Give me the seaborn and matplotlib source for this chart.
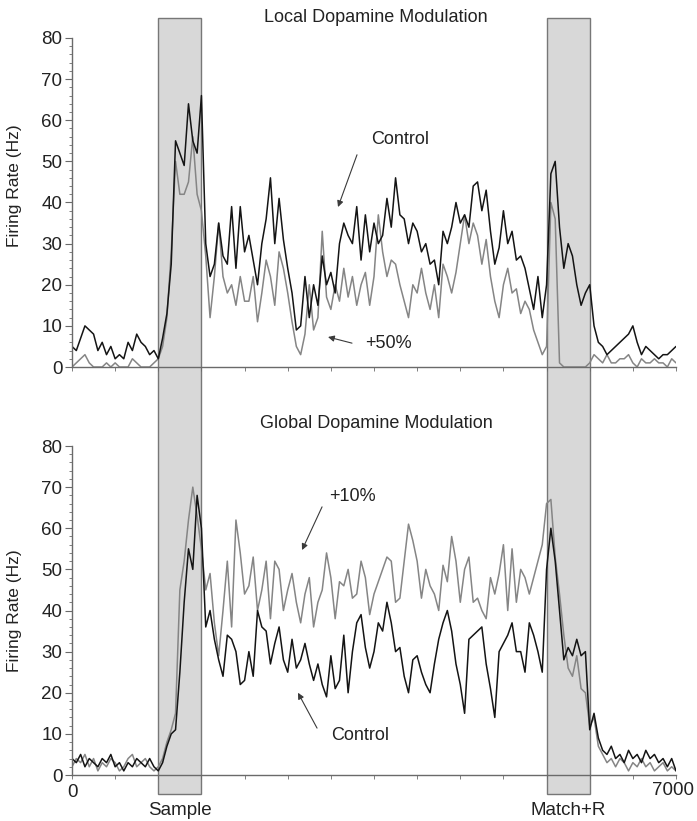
import numpy as np
import pandas as pd
import matplotlib
matplotlib.use('Agg')
import matplotlib.pyplot as plt
import matplotlib.transforms as mtransforms
from matplotlib.patches import Rectangle
from matplotlib.ticker import MultipleLocator, NullFormatter
import seaborn as sns

# time axis, 50 ms bins
time_ms = list(range(0, 7001, 50))

# top panel: local dopamine modulation (Hz)
local_control = [5, 4, 7, 10, 9, 8, 4, 6, 3, 5, 2, 3, 2, 6, 4, 8, 6, 5, 3, 4, 2,
                 7, 13, 25, 55, 52, 49, 64, 55, 52, 66,
                 30, 22, 25, 35, 27, 25, 39, 24, 39, 28,
                 32, 26, 20, 30, 36, 46, 30, 41, 31, 24,
                 18, 9, 10, 22, 12, 20, 15, 27, 20, 23,
                 18, 30, 35, 32, 30, 39, 26, 37, 28, 35,
                 30, 32, 41, 34, 46, 37, 36, 30, 35, 33,
                 28, 30, 25, 26, 20, 33, 30, 34, 40, 35,
                 37, 34, 44, 45, 38, 43, 33, 25, 29, 38,
                 30, 33, 26, 27, 24, 19, 14, 22, 12, 20,
                 47, 50, 34, 24, 30, 27, 20, 15, 18, 20,
                 10, 6, 5, 3, 4, 5, 6, 7, 8, 10,
                 6, 3, 5, 4, 3, 2, 3, 3, 4, 5]
local_plus50 = [0, 1, 2, 3, 1, 0, 0, 0, 1, 0, 1, 0, 0, 0, 2, 1, 0, 0, 0, 1, 2,
                5, 12, 28, 50, 42, 42, 45, 56, 42, 38,
                27, 12, 22, 35, 22, 18, 20, 15, 22, 16,
                16, 22, 11, 18, 26, 22, 15, 28, 24, 18,
                11, 5, 3, 8, 20, 9, 12, 33, 17, 14,
                20, 16, 24, 17, 22, 15, 20, 23, 15, 22,
                37, 28, 22, 26, 25, 20, 16, 12, 20, 18,
                24, 18, 14, 20, 12, 25, 22, 18, 23, 30,
                37, 30, 35, 32, 25, 31, 22, 16, 12, 20,
                24, 18, 19, 13, 16, 14, 9, 6, 3, 5,
                40, 36, 1, 0, 0, 0, 0, 0, 0, 1,
                3, 2, 1, 3, 1, 1, 2, 2, 3, 1,
                0, 2, 1, 1, 2, 1, 1, 0, 2, 1]

# bottom panel: global dopamine modulation
global_control = [4, 3, 5, 2, 4, 3, 2, 4, 3, 5, 2, 3, 1, 3, 2, 4, 3, 2, 4, 2, 1,
                  3, 7, 10, 11, 25, 42, 55, 50, 68, 60,
                  36, 40, 33, 28, 24, 34, 33, 30, 22, 23,
                  30, 24, 40, 36, 35, 27, 32, 36, 28, 25,
                  33, 26, 28, 32, 27, 23, 27, 22, 19, 29,
                  21, 23, 34, 20, 30, 37, 39, 31, 26, 30,
                  37, 35, 42, 37, 30, 31, 24, 20, 28, 29,
                  25, 22, 20, 27, 33, 37, 40, 35, 27, 22,
                  15, 33, 34, 35, 36, 27, 21, 14, 30, 32,
                  34, 37, 30, 30, 25, 37, 34, 30, 25, 50,
                  60, 52, 40, 28, 31, 29, 33, 29, 30, 11,
                  15, 9, 6, 5, 7, 4, 5, 3, 6, 4,
                  5, 3, 6, 4, 5, 3, 4, 2, 4, 1]
global_plus10 = [2, 4, 3, 5, 2, 4, 1, 3, 2, 4, 3, 1, 2, 4, 5, 2, 3, 4, 2, 1, 2,
                 4, 8, 11, 15, 45, 52, 62, 70, 63, 55,
                 45, 49, 37, 29, 40, 52, 36, 62, 54, 44,
                 46, 53, 40, 45, 52, 38, 52, 50, 40, 45,
                 49, 42, 37, 44, 48, 36, 42, 45, 54, 48,
                 38, 47, 46, 50, 43, 44, 52, 48, 39, 44,
                 47, 50, 53, 52, 42, 43, 52, 61, 57, 52,
                 43, 50, 46, 44, 40, 51, 47, 58, 52, 42,
                 50, 53, 42, 43, 40, 38, 48, 44, 49, 56,
                 40, 55, 42, 50, 48, 44, 48, 52, 56, 66,
                 67, 53, 44, 34, 26, 24, 29, 21, 20, 12,
                 14, 7, 5, 3, 4, 2, 4, 3, 1, 3,
                 2, 4, 2, 3, 1, 2, 3, 1, 2, 1]

# task epochs (ms)
epochs = [(1000, 1500, 'Sample'), (5500, 6000, 'Match+R')]

sns.set_style('ticks')
plt.rcParams['font.family'] = ['Liberation Sans', 'DejaVu Sans']

W, H = 697, 821
fig = plt.figure(figsize=(W / 100, H / 100), dpi=100)
ax_top = fig.add_axes([72 / W, 1 - 367 / H, 604 / W, 329 / H])
ax_bot = fig.add_axes([72 / W, 1 - 775 / H, 604 / W, 329 / H])

spine_col = '#6a6a6a'
txt_col = '#222222'
pal = {'mod': '#858585', 'ctrl': '#141414'}


def draw_panel(ax, ctrl, mod):
    n = len(time_ms)
    df = pd.DataFrame({'t': time_ms * 2,
                       'rate': mod + ctrl,
                       'cond': ['mod'] * n + ['ctrl'] * n})
    sns.lineplot(data=df, x='t', y='rate', hue='cond', hue_order=['mod', 'ctrl'],
                 palette=pal, estimator=None, legend=False, lw=1.1, ax=ax)
    ax.set_xlim(0, 7000)
    ax.set_ylim(0, 80)
    ax.set_facecolor('none')
    for s in ['top', 'right']:
        ax.spines[s].set_visible(False)
    for s in ['left', 'bottom']:
        ax.spines[s].set_color(spine_col)
        ax.spines[s].set_linewidth(1.0)
    ax.yaxis.set_major_locator(MultipleLocator(10))
    ax.yaxis.set_minor_locator(MultipleLocator(2))
    ax.xaxis.set_major_locator(MultipleLocator(500))
    ax.xaxis.set_major_formatter(NullFormatter())
    ax.tick_params(axis='y', which='major', direction='out', length=5, width=0.8,
                   color=spine_col, labelsize=13.5, labelcolor=txt_col, pad=2)
    ax.tick_params(axis='y', which='minor', direction='out', length=2.5, width=0.6,
                   color=spine_col)
    ax.tick_params(axis='x', which='major', direction='out', length=3, width=0.6,
                   color=spine_col)
    ax.set_xlabel('')
    ax.set_ylabel('Firing Rate (Hz)', fontsize=12.5, color=txt_col)


draw_panel(ax_top, local_control, local_plus50)
draw_panel(ax_bot, global_control, global_plus10)
ax_top.yaxis.set_label_coords(-0.083, 0.55)
ax_bot.yaxis.set_label_coords(-0.083, 0.5)

# grey epoch bands running through both panels
band = mtransforms.blended_transform_factory(ax_bot.transData, fig.transFigure)
y0, y1 = 1 - 794 / H, 1 - 18 / H
for start, end, name in epochs:
    fig.add_artist(Rectangle((start, y0), end - start, y1 - y0, transform=band,
                             facecolor='#d8d8d8', edgecolor='#777777', lw=1.0, zorder=-1))
    fig.text((start + end) / 2, 1 - 810 / H, name, transform=band,
             ha='center', va='center', fontsize=13.5, color=txt_col)

# x end labels
fig.text(0, 1 - 792 / H, '0', transform=band, ha='center', va='center',
         fontsize=13.5, color=txt_col)
fig.text(6960, 1 - 790 / H, '7000', transform=band, ha='center', va='center',
         fontsize=13.5, color=txt_col)

# panel titles
fig.text(376 / W, 1 - 17 / H, 'Local Dopamine Modulation', ha='center', va='center',
         fontsize=13, color=txt_col)
fig.text(376 / W, 1 - 423 / H, 'Global Dopamine Modulation', ha='center', va='center',
         fontsize=13, color=txt_col)

arrow = dict(arrowstyle='-|>', color='#3a3a3a', lw=0.8, mutation_scale=9,
             shrinkA=0, shrinkB=0)

# top annotations
ax_top.text(3802, 55.2, 'Control', ha='center', va='center', fontsize=13, color=txt_col)
ax_top.annotate('', xy=(3083, 38.9), xytext=(3303, 51.6), arrowprops=arrow)
ax_top.text(3662, 5.8, '+50%', ha='center', va='center', fontsize=13, color=txt_col)
ax_top.annotate('', xy=(2967, 7.3), xytext=(3245, 5.8), arrowprops=arrow)

# bottom annotations
ax_bot.text(3245, 67.6, '+10%', ha='center', va='center', fontsize=13, color=txt_col)
ax_bot.annotate('', xy=(2666, 54.7), xytext=(2898, 65.2), arrowprops=arrow)
ax_bot.text(3338, 9.7, 'Control', ha='center', va='center', fontsize=13, color=txt_col)
ax_bot.annotate('', xy=(2619, 20.0), xytext=(2840, 11.4), arrowprops=arrow)

fig.savefig('out.png', dpi=100)
